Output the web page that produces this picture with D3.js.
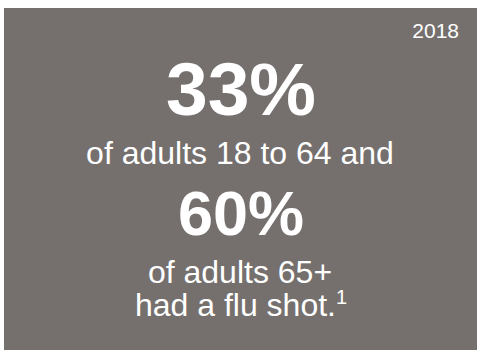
<!DOCTYPE html>
<html>
<head>
<meta charset="utf-8">
<script src="https://cdn.jsdelivr.net/npm/d3@7"></script>
<style>
  html, body { margin: 0; padding: 0; background: #fff; }
  svg { display: block; font-family: Arial, "Liberation Sans", sans-serif; }
</style>
</head>
<body>
<svg id="chart" width="479" height="352"></svg>
<script>
// data
var year = '2018',
    groups = ['of adults 18 to 64 and', 'of adults 65+'],
    percents = [33, 60],
    footLine = 'had a flu shot.',
    noteRef = '1';

var svg = d3.select('#chart'),
    W = 479, H = 352,
    bg = '#75706e',
    cx = 241;

svg.append('rect')
  .attr('x', 4).attr('y', 8)
  .attr('width', 473).attr('height', 342)
  .attr('fill', bg);

svg.append('text')
  .attr('x', 459).attr('y', 38)
  .attr('text-anchor', 'end')
  .attr('fill', '#fff')
  .attr('font-size', 21)
  .text(year);

// big numbers then a label under each
var bigSize = [75, 63],
    bigY = [115, 235],
    lblY = [164, 283];

percents.forEach(function(p, i) {
  svg.append('text')
    .attr('x', cx).attr('y', bigY[i])
    .attr('text-anchor', 'middle')
    .attr('fill', '#fff')
    .attr('font-weight', 'bold')
    .attr('font-size', bigSize[i])
    .text(d3.format('d')(p) + '%');

  svg.append('text')
    .attr('x', cx - 1).attr('y', lblY[i])
    .attr('text-anchor', 'middle')
    .attr('fill', '#fff')
    .attr('font-size', 32)
    .text(groups[i]);
});

var last = svg.append('text')
  .attr('x', cx).attr('y', 316)
  .attr('text-anchor', 'middle')
  .attr('fill', '#fff')
  .attr('font-size', 32);
last.append('tspan').text(footLine);
last.append('tspan')
  .attr('font-size', 20)
  .attr('dy', -12)
  .text(noteRef);
</script>
</body>
</html>
